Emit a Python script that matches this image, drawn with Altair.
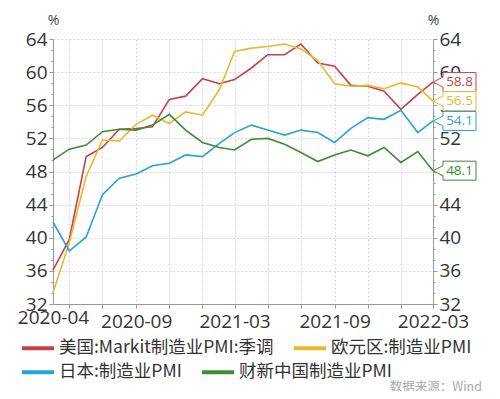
import altair as alt
import pandas as pd

months = ["2020-04", "2020-05", "2020-06", "2020-07", "2020-08", "2020-09",
          "2020-10", "2020-11", "2020-12", "2021-01", "2021-02", "2021-03",
          "2021-04", "2021-05", "2021-06", "2021-07", "2021-08", "2021-09",
          "2021-10", "2021-11", "2021-12", "2022-01", "2022-02", "2022-03"]

series_names = ["美国:Markit制造业PMI:季调", "欧元区:制造业PMI", "日本:制造业PMI", "财新中国制造业PMI"]
series_colors = ["#CB3F47", "#E8B92C", "#27A3DC", "#3E8C35"]

us = [36.1, 39.8, 49.8, 50.9, 53.1, 53.2, 53.4, 56.7, 57.1, 59.2, 58.6, 59.1,
      60.5, 62.1, 62.1, 63.4, 61.1, 60.7, 58.4, 58.3, 57.7, 55.5, 57.3, 58.8]
ez = [33.4, 39.4, 47.4, 51.8, 51.7, 53.7, 54.8, 53.8, 55.2, 54.8, 57.9, 62.5,
      62.9, 63.1, 63.4, 62.8, 61.4, 58.6, 58.3, 58.4, 58.0, 58.7, 58.2, 56.5]
jp = [41.9, 38.4, 40.1, 45.2, 47.2, 47.7, 48.7, 49.0, 50.0, 49.8, 51.4, 52.7,
      53.6, 53.0, 52.4, 53.0, 52.7, 51.5, 53.2, 54.5, 54.3, 55.4, 52.7, 54.1]
cx = [49.4, 50.7, 51.2, 52.8, 53.1, 53.0, 53.6, 54.9, 53.0, 51.5, 50.9, 50.6,
      51.9, 52.0, 51.3, 50.3, 49.2, 50.0, 50.6, 49.9, 50.9, 49.1, 50.4, 48.1]

label_months = ["2020-04", "2020-09", "2021-03", "2021-09", "2022-03"]
y_ticks = [round(32 + i * 4 / 3, 4) for i in range(25)]
source_text = "数据来源：Wind"

rows = []
for name, vals in zip(series_names, [us, ez, jp, cx]):
    for m, v in zip(months, vals):
        rows.append({"month": m + "-01", "series": name, "value": v})
df = pd.DataFrame(rows)
last_df = df[df["month"] == months[-1] + "-01"]

FONT = "Open Sans"
CJK = "Noto Sans CJK SC"

x_vals = [alt.DateTime(year=int(m[:4]), month=int(m[5:]), date=1, utc=True) for m in months]
lab_arr = "[" + ",".join("'" + m + "'" for m in label_months) + "]"
x_label_expr = f"indexof({lab_arr}, utcFormat(datum.value, '%Y-%m')) >= 0 ? utcFormat(datum.value, '%Y-%m') : ''"
odd_test = "utcmonth(datum.value) % 2 == 0"
major_test = "abs(datum.value/4 - round(datum.value/4)) < 0.01"

color_scale = alt.Scale(domain=series_names, range=series_colors)
# same colours, listed in another order so that its legend stays separate
stroke_scale = alt.Scale(domain=series_names[2:] + series_names[:2],
                         range=series_colors[2:] + series_colors[:2])
x_scale = alt.Scale(type="utc", domain=[months[0] + "-01", months[-1] + "-01"])
y_scale = alt.Scale(domain=[32, 64], nice=False, zero=False)

x_axis = alt.Axis(
    values=x_vals, labelExpr=x_label_expr, title=None, zindex=0,
    grid=True, gridDash=[2, 2], gridColor="#d6d6de",
    gridOpacity={"condition": {"test": odd_test, "value": 1}, "value": 0},
    tickSize={"condition": {"test": odd_test, "value": 4}, "value": 0},
    tickColor="#999", domainColor="#999",
    labelFont=FONT, labelFontSize=19, labelColor="#333",
    labelPadding=4, labelFlush=False, labelOverlap=False, labelAngle=0,
)

def y_axis(orient, grid):
    return alt.Axis(
        orient=orient, values=y_ticks, labelExpr=f"{major_test} ? datum.label : ''",
        title="%", titleAngle=0, titleX=0, titleY=-19, titleAlign="center",
        titleBaseline="middle", titleFont=FONT, titleFontSize=14, titleFontWeight="normal",
        titleColor="#444", zindex=0,
        grid=grid, gridDash=[2, 2], gridColor="#d6d6de",
        gridOpacity={"condition": {"test": major_test, "value": 1}, "value": 0},
        tickSize={"condition": {"test": major_test, "value": 4}, "value": 2},
        tickColor="#999", domainColor="#999",
        labelFont=FONT, labelFontSize=19, labelColor="#333",
        labelPadding=2, labelFlush=False, labelOverlap=False, labelBaseline="middle",
    )

def legend(values, y):
    return alt.Legend(
        title=None, orient="none", legendX=-33, legendY=y, values=values,
        direction="horizontal", columns=2, columnPadding=12, padding=0,
        symbolType="stroke", symbolSize=1024, symbolStrokeWidth=4,
        labelFont=CJK, labelFontSize=17.5, labelColor="#333",
        labelLimit=400, labelOffset=3)

lines = alt.Chart(df).mark_line(strokeWidth=1.6).encode(
    x=alt.X("month:T", scale=x_scale, axis=x_axis),
    y=alt.Y("value:Q", scale=y_scale, axis=y_axis("left", True)),
    color=alt.Color("series:N", scale=color_scale, sort=series_names,
                    legend=legend(series_names[:2], 291)),
)

box_path = "M0,0L10,-5L10,-9.5L43,-9.5L43,9.5L10,9.5L10,5Z"
points = alt.Chart(last_df).mark_point(
    shape=box_path, size=4, filled=True, fill="white", strokeWidth=1, opacity=1
).encode(
    x=alt.X("month:T", scale=x_scale, axis=None),
    y=alt.Y("value:Q", scale=y_scale, axis=y_axis("right", False)),
    stroke=alt.Stroke("series:N", scale=stroke_scale,
                      legend=legend(series_names[2:], 315)),
)

texts = alt.Chart(last_df).mark_text(
    dx=26.5, align="center", baseline="middle", font=FONT, fontSize=13.5
).encode(
    x=alt.X("month:T", scale=x_scale, axis=None),
    y=alt.Y("value:Q", scale=y_scale, axis=None),
    text=alt.Text("value:Q", format=".1f"),
    color=alt.Color("series:N", scale=color_scale, legend=None),
)

src = alt.Chart(pd.DataFrame({"t": [source_text]})).mark_text(
    align="right", baseline="middle", font=CJK, fontSize=12.5, color="#aaa"
).encode(text="t:N", x=alt.value(429), y=alt.value(348))

chart = alt.layer(lines, points, texts, src).resolve_axis(
    x="independent", y="independent"
).resolve_legend(color="independent", stroke="independent").properties(
    width=380, height=265, autosize=alt.AutoSizeParams(type="none"),
    padding={"left": 45, "top": 31, "right": 59, "bottom": 87},
    background="white",
).configure_view(stroke=None)

chart.save("out.html", embed_options={"renderer": "svg", "actions": False})
